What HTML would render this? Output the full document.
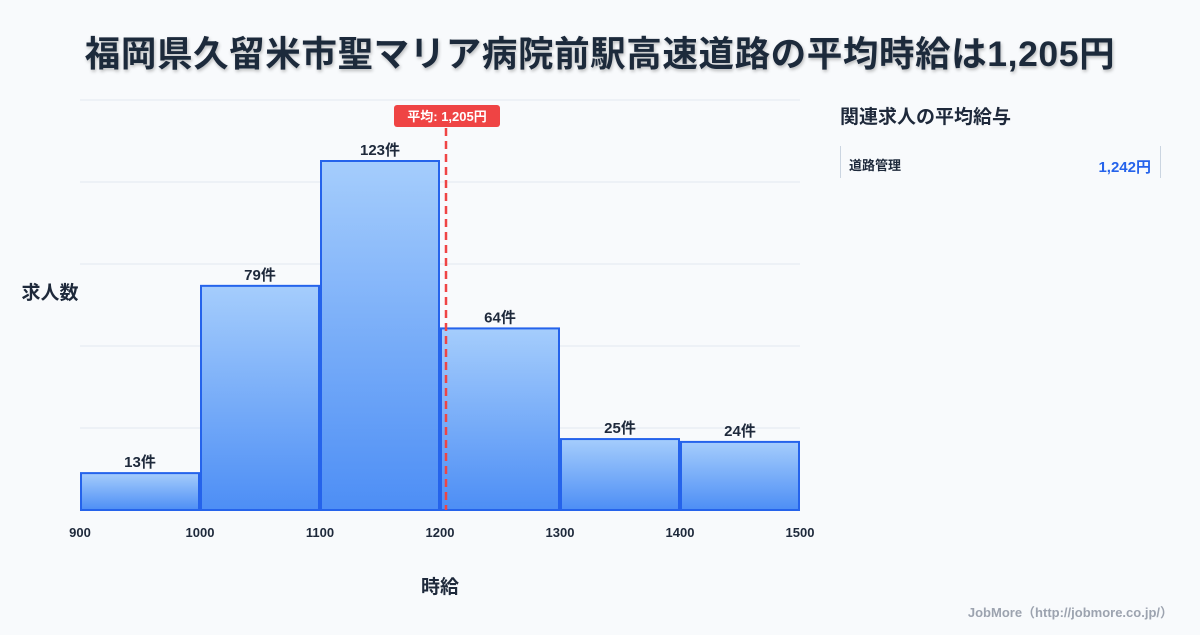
<!DOCTYPE html>
<html><head><meta charset="utf-8"><style>
body{margin:0;background:#f8fafc;font-family:"Liberation Sans","Noto Sans CJK JP",sans-serif;}
svg text{font-family:"Liberation Sans","Noto Sans CJK JP",sans-serif;}
</style></head><body>
<svg id="c" width="1200" height="630" viewBox="0 0 1200 630">
<defs><linearGradient id="g" x1="0" y1="0" x2="0" y2="1"><stop offset="0" stop-color="#a5cdfc"/><stop offset="1" stop-color="#4d8ef5"/></linearGradient>
<filter id="sh"><feDropShadow dx="1" dy="2" stdDeviation="1.5" flood-color="#000" flood-opacity="0.25"/></filter></defs>
<rect width="1200" height="630" fill="#f8fafc"/>
<text x="600" y="66" text-anchor="middle" font-size="35.5" letter-spacing="0.6" font-weight="bold" fill="#1e293b" filter="url(#sh)">福岡県久留米市聖マリア病院前駅高速道路の平均時給は1,205円</text>
<g id="grid"></g><g id="bars"></g><g id="xt"></g>
<text x="50" y="299" text-anchor="middle" font-size="19" font-weight="bold" fill="#1e293b">求人数</text>
<text x="440" y="593" text-anchor="middle" font-size="19" font-weight="bold" fill="#1e293b">時給</text>
<text x="840" y="123" font-size="19" font-weight="bold" fill="#1e293b">関連求人の平均給与</text>
<line x1="840.5" y1="146" x2="840.5" y2="178" stroke="#cbd5e1"/>
<line x1="1160.5" y1="146" x2="1160.5" y2="178" stroke="#cbd5e1"/>
<text x="849" y="170" font-size="13" font-weight="bold" fill="#1e293b">道路管理</text>
<text x="1151" y="172" text-anchor="end" font-size="15" font-weight="bold" fill="#2563eb">1,242円</text>
<text x="1173" y="617" text-anchor="end" font-size="13" font-weight="bold" fill="#9ca3af">JobMore（http://jobmore.co.jp/）</text>
</svg>
<script>
const binStarts=[900,1000,1100,1200,1300,1400];
const counts=[13,79,123,64,25,24];
const xTicks=[900,1000,1100,1200,1300,1400,1500];
const avg=1205;
const avgLabel="平均: 1,205円";
const NS="http://www.w3.org/2000/svg";
const X=v=>80+(v-900)*1.2, Y=v=>510-v*349/123;
function mk(t,a,p){const e=document.createElementNS(NS,t);for(const k in a)e.setAttribute(k,a[k]);p.appendChild(e);return e;}
const grid=document.getElementById('grid'),bars=document.getElementById('bars'),xt=document.getElementById('xt');
for(let i=0;i<6;i++){const y=100+i*82;const l=mk('line',{x1:80,x2:800,y1:y,y2:y,stroke:'#e2e8f0'},grid);

}
binStarts.forEach((b,i)=>{const x0=X(b)+1,x1=X(b+100)-1,y=Y(counts[i]);
const r=mk('rect',{x:x0,y:y,width:x1-x0,height:510-y,fill:'url(#g)',stroke:'#2563eb','stroke-width':2},bars);


const t=mk('text',{x:(x0+x1)/2,y:y-6,'text-anchor':'middle','font-size':15,'font-weight':'bold',fill:'#1e293b'},bars);
t.textContent=counts[i]+'件';

});
xTicks.forEach(v=>{const t=mk('text',{x:X(v),y:537,'text-anchor':'middle','font-size':13,'font-weight':'bold',fill:'#1e293b'},xt);
t.textContent=v;

});
const ax=X(avg);
const al=mk('line',{x1:ax,x2:ax,y1:128,y2:510,stroke:'#ef4444','stroke-width':2.5,'stroke-dasharray':'8,5'},bars);


const ar=mk('rect',{x:ax-52,y:105,width:106,height:22,rx:3,fill:'#ef4444'},bars);


const at=mk('text',{x:ax+1,y:121,'text-anchor':'middle','font-size':13,'font-weight':'bold',fill:'#fff'},bars);
at.textContent=avgLabel;


</script>
</body></html>
